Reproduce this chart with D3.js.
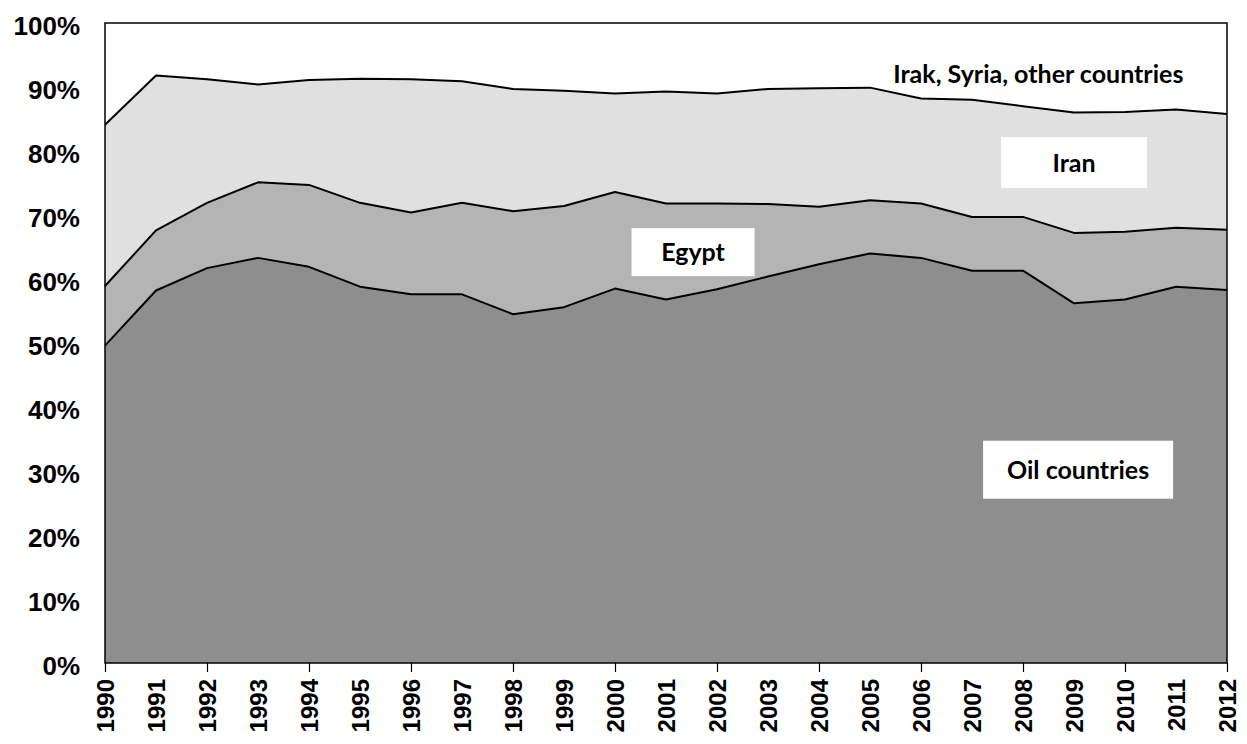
<!DOCTYPE html>
<html>
<head>
<meta charset="utf-8">
<script src="https://cdn.jsdelivr.net/npm/d3@7"></script>
<style>
  body { margin: 0; background: #fff; }
  svg { display: block; }
</style>
</head>
<body>
<svg id="mainsvg" width="1247" height="744"></svg>
<script>
// values in % of total
const years = [1990, 1991, 1992, 1993, 1994, 1995, 1996, 1997, 1998, 1999, 2000, 2001,
               2002, 2003, 2004, 2005, 2006, 2007, 2008, 2009, 2010, 2011, 2012];
const oil    = [49.6, 58.2, 61.7, 63.3, 61.9, 58.8, 57.6, 57.6, 54.5, 55.6, 58.5, 56.8,
                58.4, 60.4, 62.3, 64.0, 63.3, 61.3, 61.3, 56.2, 56.8, 58.8, 58.3];
const egypt  = [9.3, 9.4, 10.2, 11.8, 12.8, 13.1, 12.8, 14.3, 16.1, 15.8, 15.1, 15.0,
                13.4, 11.3, 9.0, 8.3, 8.5, 8.4, 8.4, 11.0, 10.6, 9.2, 9.4];
const iran   = [25.2, 24.2, 19.3, 15.3, 16.4, 19.4, 20.8, 19.0, 19.1, 18.0, 15.4, 17.5,
                17.2, 18.0, 18.5, 17.6, 16.4, 18.3, 17.3, 18.8, 18.7, 18.5, 18.1];
const others = [15.9, 8.2, 8.8, 9.6, 8.9, 8.8, 8.8, 9.1, 10.3, 10.6, 11.0, 10.7,
                11.0, 10.3, 10.2, 10.1, 11.8, 12.0, 13.0, 14.0, 13.9, 13.5, 14.2];
const seriesKeys = ['Oil countries', 'Egypt', 'Iran', 'Irak, Syria, other countries'];
const yTicks = [0, 10, 20, 30, 40, 50, 60, 70, 80, 90, 100];

const svg = d3.select('#mainsvg');
const width = +svg.attr('width');
const height = +svg.attr('height');
const margin = { top: 23, right: 20, bottom: 81, left: 105 };
const innerWidth = width - margin.left - margin.right;
const innerHeight = height - margin.top - margin.bottom;
const g = svg.append('g').attr('transform', `translate(${margin.left}, ${margin.top})`);

const table = years.map((y, i) => ({
    year: y,
    'Oil countries': oil[i],
    'Egypt': egypt[i],
    'Iran': iran[i],
    'Irak, Syria, other countries': others[i]
}));

const stacked = d3.stack().keys(seriesKeys)(table);

const xScale = d3.scaleLinear()
    .domain(d3.extent(years))
    .range([0, innerWidth]);
const yScale = d3.scaleLinear()
    .domain([0, 100])
    .range([innerHeight, 0]);

const fills = ['#8e8e8e', '#b4b4b4', '#e0e0e0', '#ffffff'];

const area = d3.area()
    .x(d => xScale(d.data.year))
    .y0(d => yScale(d[0]))
    .y1(d => yScale(Math.min(d[1], 100)));

g.selectAll('.layer').data(stacked).join('path')
    .attr('class', 'layer')
    .attr('fill', (d, i) => fills[i])
    .attr('d', area);

// boundary lines on top of the three lower series
const topLine = d3.line()
    .x(d => xScale(d.data.year))
    .y(d => yScale(d[1]));
g.selectAll('.edge').data(stacked.slice(0, 3)).join('path')
    .attr('class', 'edge')
    .attr('fill', 'none')
    .attr('stroke', '#000')
    .attr('stroke-width', 2)
    .attr('stroke-linejoin', 'round')
    .attr('d', topLine);

// plot frame
g.append('rect')
    .attr('width', innerWidth)
    .attr('height', innerHeight)
    .attr('fill', 'none')
    .attr('stroke', '#000')
    .attr('stroke-width', 1.5);

// y axis labels (no tick marks)
const yAxis = d3.axisLeft(yScale)
    .tickValues(yTicks)
    .tickFormat(d => d + '%')
    .tickSize(0)
    .tickPadding(25);
const yAxisGroup = g.append('g').call(yAxis);
yAxisGroup.select('.domain').remove();
yAxisGroup.selectAll('.tick line').remove();
yAxisGroup.selectAll('.tick text')
    .attr('font-family', '"Liberation Sans", Arial, sans-serif')
    .attr('font-size', 26)
    .attr('font-weight', 'bold')
    .attr('fill', '#000')
    .attr('dy', '0.45em');

// x axis: ticks every two years, labels every year
const xAxis = d3.axisBottom(xScale)
    .tickValues(years.filter(y => (y - 1990) % 2 === 0))
    .tickSize(9);
const xAxisGroup = g.append('g').call(xAxis)
    .attr('transform', `translate(0, ${innerHeight})`);
xAxisGroup.select('.domain').remove();
xAxisGroup.selectAll('.tick text').remove();
xAxisGroup.selectAll('.tick line').attr('stroke', '#000').attr('stroke-width', 1.2);

xAxisGroup.selectAll('.year').data(years).join('text')
    .attr('class', 'year')
    .attr('transform', d => `translate(${xScale(d)}, 16) rotate(-90)`)
    .attr('dy', '0.36em')
    .attr('text-anchor', 'end')
    .attr('font-family', '"Liberation Sans", Arial, sans-serif')
    .attr('font-size', 24)
    .attr('font-weight', 'bold')
    .attr('fill', '#000')
    .text(d => d);

// series labels, placed in data coordinates
const labels = [
    { text: 'Oil countries', year: 2009.08, value: 30.2, w: 190, h: 58, box: true },
    { text: 'Egypt', year: 2001.53, value: 64.2, w: 123, h: 48, box: true },
    { text: 'Iran', year: 2009.0, value: 78.2, w: 146, h: 51, box: true },
    { text: 'Irak, Syria, other countries', year: 2008.3, value: 92.1, w: 0, h: 0, box: false }
];
const lab = g.selectAll('.lab').data(labels).join('g')
    .attr('class', 'lab')
    .attr('transform', d => `translate(${xScale(d.year)}, ${yScale(d.value)})`);
lab.filter(d => d.box).append('rect')
    .attr('x', d => -d.w / 2)
    .attr('y', d => -d.h / 2)
    .attr('width', d => d.w)
    .attr('height', d => d.h)
    .attr('fill', '#fff');
lab.append('text')
    .attr('text-anchor', 'middle')
    .attr('dy', '0.36em')
    .attr('font-family', 'Lato, "Open Sans", sans-serif')
    .attr('font-size', 25)
    .attr('font-weight', 'bold')
    .attr('fill', '#000')
    .text(d => d.text);
</script>
</body>
</html>
